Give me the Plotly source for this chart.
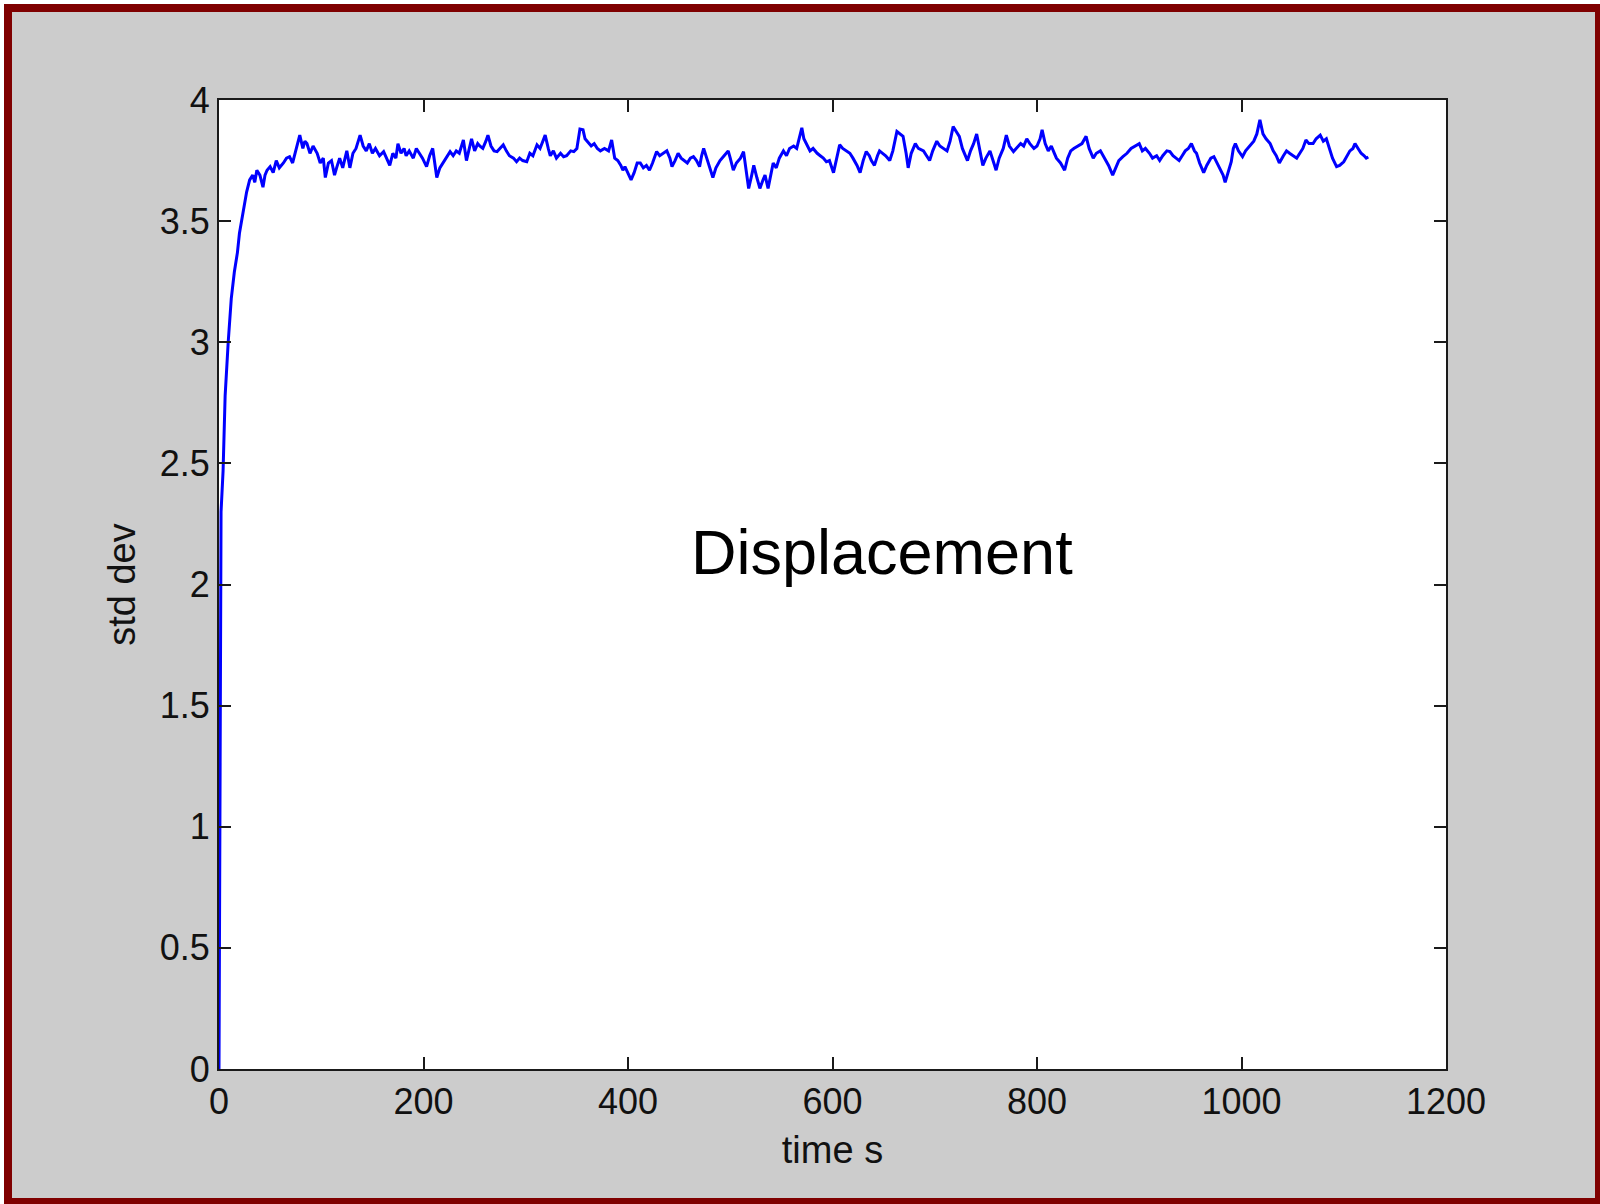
import plotly.graph_objects as go

# ---------------- data ----------------
time_s = [0, 1, 2, 4, 6, 9, 12, 15, 18, 20, 22, 24, 27, 30, 33, 35, 37, 40, 43, 45, 47, 50, 53, 56, 59,
          63, 66, 69, 72, 75, 79, 82, 84, 86, 89, 92, 96, 99, 102, 104, 107, 110, 113, 115, 118, 121, 125,
          128, 131, 134, 138, 141, 144, 147, 150, 153, 157, 161, 164, 167, 170, 173, 175, 178, 181, 183,
          186, 190, 193, 196, 199, 203, 206, 209, 211, 213, 216, 219, 222, 226, 229, 232, 235, 239, 242,
          245, 247, 250, 253, 255, 258, 261, 263, 266, 269, 272, 275, 278, 281, 284, 288, 291, 294, 297,
          301, 304, 307, 311, 314, 317, 319, 322, 324, 327, 330, 334, 337, 340, 344, 347, 350, 353, 356,
          358, 360, 364, 367, 370, 373, 377, 381, 384, 387, 390, 393, 395, 397, 400, 403, 406, 409, 412,
          415, 418, 421, 424, 428, 431, 434, 438, 441, 443, 446, 449, 452, 455, 458, 461, 464, 467, 470,
          472, 474, 477, 480, 483, 486, 490, 494, 498, 500, 503, 506, 510, 513, 515, 518, 521, 523, 526,
          529, 532, 534, 537, 540, 542, 545, 548, 552, 555, 558, 562, 565, 568, 570, 572, 575, 578, 581,
          585, 588, 591, 594, 597, 601, 604, 607, 610, 614, 617, 620, 624, 627, 630, 633, 636, 638, 641,
          644, 646, 649, 652, 656, 659, 663, 666, 669, 672, 674, 677, 681, 684, 689, 692, 695, 698, 702,
          705, 708, 712, 715, 718, 721, 724, 727, 730, 732, 735, 738, 741, 744, 747, 750, 754, 757, 760,
          763, 767, 770, 773, 777, 780, 784, 787, 790, 793, 797, 800, 803, 805, 808, 811, 814, 817, 819,
          823, 827, 830, 833, 836, 840, 844, 848, 851, 855, 858, 862, 866, 870, 874, 877, 880, 884, 888,
          892, 896, 900, 903, 906, 910, 913, 917, 920, 923, 927, 930, 933, 936, 939, 942, 945, 948, 951,
          954, 956, 959, 963, 966, 970, 973, 976, 979, 982, 984, 987, 990, 992, 994, 997, 1001, 1004,
          1008, 1012, 1015, 1018, 1021, 1024, 1028, 1031, 1034, 1037, 1041, 1044, 1047, 1050, 1054, 1057,
          1060, 1063, 1066, 1070, 1073, 1077, 1080, 1083, 1086, 1089, 1093, 1096, 1100, 1103, 1106, 1109,
          1111, 1114, 1117, 1120, 1122, 1124]

std_dev = [0.0, 1.53, 2.30, 2.47, 2.78, 3.00, 3.18, 3.29, 3.37, 3.45, 3.50, 3.55, 3.62, 3.67, 3.69, 3.66,
           3.71, 3.69, 3.64, 3.69, 3.71, 3.725, 3.70, 3.75, 3.72, 3.74, 3.76, 3.766, 3.74, 3.79, 3.855,
           3.80, 3.83, 3.82, 3.78, 3.81, 3.78, 3.74, 3.76, 3.68, 3.74, 3.75, 3.69, 3.72, 3.76, 3.72, 3.79,
           3.72, 3.78, 3.80, 3.855, 3.81, 3.79, 3.82, 3.78, 3.80, 3.77, 3.787, 3.76, 3.73, 3.78, 3.76,
           3.82, 3.78, 3.80, 3.77, 3.79, 3.76, 3.80, 3.78, 3.76, 3.725, 3.77, 3.80, 3.74, 3.68, 3.72, 3.74,
           3.76, 3.787, 3.77, 3.79, 3.78, 3.835, 3.75, 3.80, 3.84, 3.79, 3.82, 3.81, 3.80, 3.83, 3.855,
           3.81, 3.79, 3.787, 3.80, 3.815, 3.79, 3.77, 3.76, 3.745, 3.76, 3.75, 3.745, 3.78, 3.77, 3.815,
           3.80, 3.83, 3.855, 3.80, 3.77, 3.79, 3.76, 3.78, 3.766, 3.77, 3.79, 3.787, 3.80, 3.88, 3.877,
           3.84, 3.83, 3.81, 3.82, 3.80, 3.79, 3.80, 3.79, 3.835, 3.76, 3.75, 3.73, 3.71, 3.725, 3.70,
           3.67, 3.70, 3.74, 3.74, 3.72, 3.73, 3.71, 3.74, 3.787, 3.77, 3.78, 3.79, 3.76, 3.725, 3.75,
           3.78, 3.76, 3.75, 3.74, 3.76, 3.766, 3.75, 3.725, 3.77, 3.80, 3.76, 3.72, 3.68, 3.72, 3.75,
           3.77, 3.79, 3.76, 3.71, 3.74, 3.76, 3.787, 3.72, 3.635, 3.69, 3.73, 3.68, 3.635, 3.67, 3.69,
           3.635, 3.70, 3.74, 3.72, 3.76, 3.79, 3.77, 3.80, 3.81, 3.80, 3.85, 3.885, 3.84, 3.815, 3.79,
           3.80, 3.78, 3.77, 3.76, 3.745, 3.75, 3.70, 3.76, 3.815, 3.80, 3.79, 3.78, 3.76, 3.73, 3.70,
           3.75, 3.787, 3.77, 3.75, 3.73, 3.77, 3.79, 3.78, 3.77, 3.75, 3.79, 3.87, 3.86, 3.85, 3.78,
           3.72, 3.78, 3.82, 3.80, 3.79, 3.77, 3.75, 3.79, 3.83, 3.81, 3.80, 3.79, 3.83, 3.89, 3.87, 3.85,
           3.80, 3.77, 3.75, 3.79, 3.82, 3.86, 3.79, 3.73, 3.76, 3.79, 3.75, 3.71, 3.76, 3.80, 3.855,
           3.81, 3.787, 3.80, 3.82, 3.81, 3.84, 3.82, 3.80, 3.81, 3.84, 3.877, 3.82, 3.79, 3.81, 3.78,
           3.76, 3.74, 3.71, 3.76, 3.79, 3.80, 3.81, 3.82, 3.85, 3.80, 3.76, 3.78, 3.79, 3.76, 3.73, 3.69,
           3.72, 3.75, 3.766, 3.78, 3.80, 3.81, 3.82, 3.79, 3.80, 3.78, 3.76, 3.77, 3.75, 3.77, 3.79,
           3.787, 3.77, 3.76, 3.75, 3.77, 3.79, 3.80, 3.82, 3.79, 3.78, 3.74, 3.70, 3.73, 3.76, 3.766,
           3.74, 3.72, 3.69, 3.66, 3.70, 3.745, 3.80, 3.82, 3.79, 3.766, 3.79, 3.81, 3.83, 3.86, 3.918,
           3.86, 3.84, 3.82, 3.79, 3.77, 3.74, 3.77, 3.79, 3.78, 3.77, 3.76, 3.78, 3.80, 3.835, 3.82,
           3.82, 3.84, 3.855, 3.83, 3.84, 3.80, 3.76, 3.725, 3.73, 3.745, 3.77, 3.79, 3.80, 3.82, 3.80,
           3.78, 3.77, 3.76, 3.765]

x_ticks = [0, 200, 400, 600, 800, 1000, 1200]
y_ticks = [0, 0.5, 1, 1.5, 2, 2.5, 3, 3.5, 4]
y_tick_labels = ["0", "0.5", "1", "1.5", "2", "2.5", "3", "3.5", "4"]

# ---------------- figure ----------------
W, H = 1600, 1204
ML, MR, MT, MB = 219, 154, 100, 135
PW, PH = W - ML - MR, H - MT - MB


def px_to_paper_x(px):
    return (px - ML) / PW


def px_to_paper_y(py):
    return (H - MB - py) / PH


tick_font = dict(family="Liberation Sans Narrow, Arial Narrow, Liberation Sans, Arial",
                 size=36, color="#111111")
title_font = dict(family="Liberation Sans Narrow, Arial Narrow, Liberation Sans, Arial",
                  size=38, color="#111111")

fig = go.Figure()
fig.add_trace(go.Scatter(x=time_s, y=std_dev, mode="lines",
                         line=dict(color="#0000FF", width=3),
                         showlegend=False, hoverinfo="skip"))

axis_common = dict(showline=True, linecolor="#1a1a1a", linewidth=2, mirror="ticks",
                   ticks="inside", ticklen=12, tickwidth=2, tickcolor="#1a1a1a",
                   showgrid=False, zeroline=False, tickfont=tick_font)

fig.update_xaxes(range=[0, 1200], tickvals=x_ticks,
                 title=dict(text="time s", font=title_font, standoff=15), **axis_common)
fig.update_yaxes(range=[0, 4], tickvals=y_ticks, ticktext=y_tick_labels,
                 title=dict(text="std dev", font=title_font, standoff=12), **axis_common)

fig.add_annotation(x=648, y=2.136, xref="x", yref="y", text="Displacement",
                   showarrow=False, xanchor="center", yanchor="middle",
                   font=dict(family="Liberation Sans, Arial", size=63, color="#000000"))

# frame: white outer strip and dark-red border
shapes = [
    dict(type="rect", xref="paper", yref="paper",
         x0=px_to_paper_x(0), x1=px_to_paper_x(W), y0=px_to_paper_y(4), y1=px_to_paper_y(0),
         fillcolor="#FFFFFF", line=dict(width=0)),
    dict(type="rect", xref="paper", yref="paper",
         x0=px_to_paper_x(0), x1=px_to_paper_x(4), y0=px_to_paper_y(H), y1=px_to_paper_y(0),
         fillcolor="#FFFFFF", line=dict(width=0)),
    dict(type="rect", xref="paper", yref="paper",
         x0=px_to_paper_x(8), x1=px_to_paper_x(1599), y0=px_to_paper_y(1202), y1=px_to_paper_y(8),
         fillcolor="rgba(0,0,0,0)", line=dict(color="#7F0000", width=8)),
]

fig.update_layout(width=W, height=H, autosize=False,
                  margin=dict(l=ML, r=MR, t=MT, b=MB),
                  paper_bgcolor="#CCCCCC", plot_bgcolor="#FFFFFF",
                  shapes=shapes, showlegend=False)

fig.write_html("out.html")
